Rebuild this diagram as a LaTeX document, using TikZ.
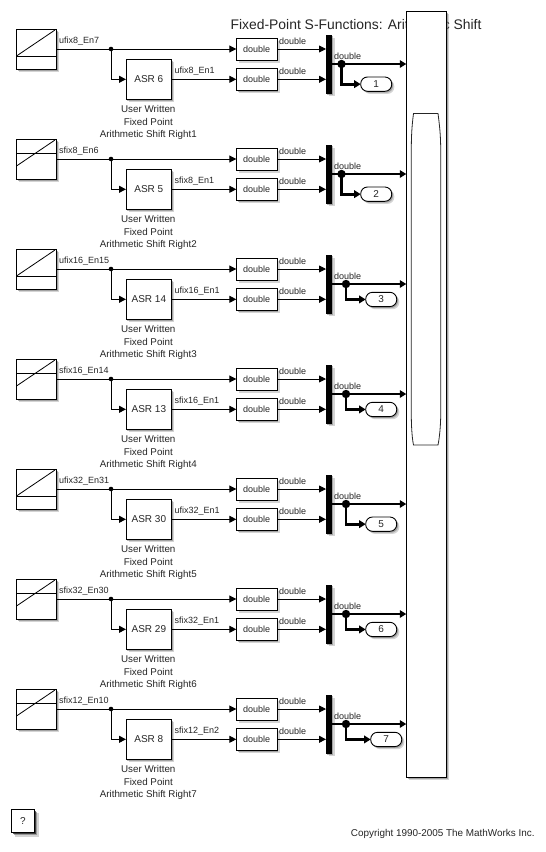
\documentclass[tikz,border=0pt]{standalone}
\usepackage{fontspec}
\setmainfont{Liberation Sans}
\usetikzlibrary{arrows.meta}
\definecolor{shad}{gray}{0.45}
\definecolor{txt}{gray}{0.15}
\tikzset{
  x=1pt,y=-1pt,
  block/.style={draw=black,fill=white,line width=0.9pt,inner sep=0pt,outer sep=0pt,anchor=north west},
  shadowed/.style={
    preaction={draw=none,fill=shad,opacity=0.3,transform canvas={shift={(2.6pt,-2.6pt)}}},
    preaction={draw=none,fill=shad,opacity=0.5,transform canvas={shift={(1.4pt,-1.4pt)}}}},
  heavyshadow/.style={
    preaction={draw=none,fill=shad,opacity=0.3,transform canvas={shift={(4pt,-4pt)}}},
    preaction={draw=none,fill=shad,opacity=0.6,transform canvas={shift={(2.6pt,-2.6pt)}}},
    preaction={draw=none,fill=black,opacity=0.6,transform canvas={shift={(1.4pt,-1.4pt)}}}},
  lbl/.style={font=\fontsize{9pt}{10pt}\selectfont,text=txt,inner sep=0pt},
  captext/.style={font=\fontsize{9.8pt}{11pt}\selectfont,text=txt,inner sep=0pt},
  big/.style={font=\fontsize{10pt}{11pt}\selectfont,text=txt,inner sep=0pt},
  wire/.style={draw=black,line width=0.9pt,-{Triangle[length=7pt,width=7pt]}},
  bus/.style={draw=black,line width=2.9pt,-{Triangle[length=6.5pt,width=7.5pt]}},
}
\def\porty{77}
\newcommand{\rowblock}[9]{%
% #1 y offset  #2 signal name  #3 ASR  #4 second signal  #5 caption suffix
% #6 junction x  #7 outport left  #8 port number  #9 ramp: 0 unsigned 1 signed
\begin{scope}[shift={(0,#1)}]
  \node[block,shadowed,minimum width=40.4pt,minimum height=40pt] (ramp#8) at (16.3,29.3) {};
  \ifnum#9=0
    \draw[line width=0.8pt] (16.5,56) -- (56,56);
    \draw[line width=0.8pt] (16.5,56) -- (55,30);
  \else
    \draw[line width=0.8pt] (16.5,43) -- (56,43);
    \draw[line width=0.8pt] (16.5,56) -- (55,30);
  \fi
  \node[block,shadowed,minimum width=45.7pt,minimum height=40pt] (asr#8) at (126,59.3) {};
  \node[big] at (asr#8.center) {ASR #3};
  \node[block,shadowed,minimum width=40.7pt,minimum height=22pt] (da#8) at (236.3,38) {};
  \node[lbl] at (da#8.center) {double};
  \node[block,shadowed,minimum width=40.7pt,minimum height=22pt] (db#8) at (236.3,68.3) {};
  \node[lbl] at (db#8.center) {double};
  \fill[shad,opacity=0.3] (328.5,37.5) rectangle (334.5,96);
  \fill[shad,opacity=0.5] (327.4,36.4) rectangle (333.4,95);
  \node[fill=black,draw=none,inner sep=0pt,outer sep=0pt,minimum width=6pt,minimum height=58.7pt,anchor=north west] (mux#8) at (326,35) {};
  \node[block,shadowed,rounded corners=6.8pt,minimum width=31pt,minimum height=14.3pt] (port#8) at (#7,\porty) {};
  \node[big] at (port#8.center) {#8};
  \coordinate (ja#8) at (111,49);
  \coordinate (jb#8) at (#6,64);
  \coordinate (ta#8) at (406.3,64);
  \fill (ja#8) circle (2.3pt);
  \fill (jb#8) circle (4.2pt);
  \draw[wire] (ramp#8.east|-ja#8) -- (da#8.west);
  \draw[wire] (ja#8) |- (asr#8.west);
  \draw[wire] (asr#8.east) -- (db#8.west);
  \draw[wire] (da#8.east) -- (mux#8.west|-da#8.east);
  \draw[wire] (db#8.east) -- (mux#8.west|-db#8.east);
  \draw[bus] (mux#8.east|-jb#8) -- (ta#8);
  \draw[bus] (jb#8) |- (port#8.west);
  \node[lbl,anchor=west] at (59,41.4) {#2};
  \node[lbl,anchor=west] at (174.3,71.4) {#4};
  \node[lbl,anchor=west] at (279,41.4) {double};
  \node[lbl,anchor=west] at (279,71.4) {double};
  \node[lbl,anchor=west] at (334,56.4) {double};
  \node[captext] at (148.3,108.7) {User Written};
  \node[captext] at (148.3,121.7) {Fixed Point};
  \node[captext] at (148.3,134.7) {Arithmetic Shift Right#5};
\end{scope}}
\begin{document}
\begin{tikzpicture}
\useasboundingbox (0,0) rectangle (546,852);
\fill[white] (0,0) rectangle (546,852);
\node[font=\fontsize{13.9pt}{15pt}\selectfont,text=txt,inner sep=0pt] (title) at (356,25) {Fixed-Point S-Functions: Arithmetic Shift};
\rowblock{0}{ufix8\_En7}{6}{ufix8\_En1}{1}{341.5}{360.7}{1}{0}
\rowblock{110}{sfix8\_En6}{5}{sfix8\_En1}{2}{341.5}{360.7}{2}{1}
\def\porty{72.3}
\rowblock{220}{ufix16\_En15}{14}{ufix16\_En1}{3}{346}{365.7}{3}{0}
\rowblock{330}{sfix16\_En14}{13}{sfix16\_En1}{4}{346}{365.7}{4}{1}
\def\porty{77}
\rowblock{440}{ufix32\_En31}{30}{ufix32\_En1}{5}{346}{365.7}{5}{0}
\def\porty{72.3}
\rowblock{550}{sfix32\_En30}{29}{sfix32\_En1}{6}{346}{365.7}{6}{1}
\rowblock{660}{sfix12\_En10}{8}{sfix12\_En2}{7}{346}{370.7}{7}{1}
\node[block,shadowed,minimum width=40.4pt,minimum height=766pt] (tall) at (406.3,11.3) {};
\draw[line width=0.8pt,draw=black!85,fill=white] (413.5,113.5) -- (438,113.5)
  .. controls (439.5,125) and (440.7,135) .. (440.7,150)
  -- (440.7,415)
  .. controls (440.7,425) and (439.5,438) .. (438,445)
  -- (413.5,445)
  .. controls (412,438) and (411.3,425) .. (411.3,415)
  -- (411.3,150)
  .. controls (411.3,135) and (412,125) .. (413.5,113.5) -- cycle;
\node[block,heavyshadow,minimum width=23.5pt,minimum height=23.4pt] (help) at (11.2,809.3) {};
\node[big] at (help.center) {?};
\node[big,font=\fontsize{9.9pt}{11pt}\selectfont,anchor=east] (copy) at (534.8,833.7) {Copyright 1990-2005 The MathWorks Inc.};
\end{tikzpicture}
\end{document}
